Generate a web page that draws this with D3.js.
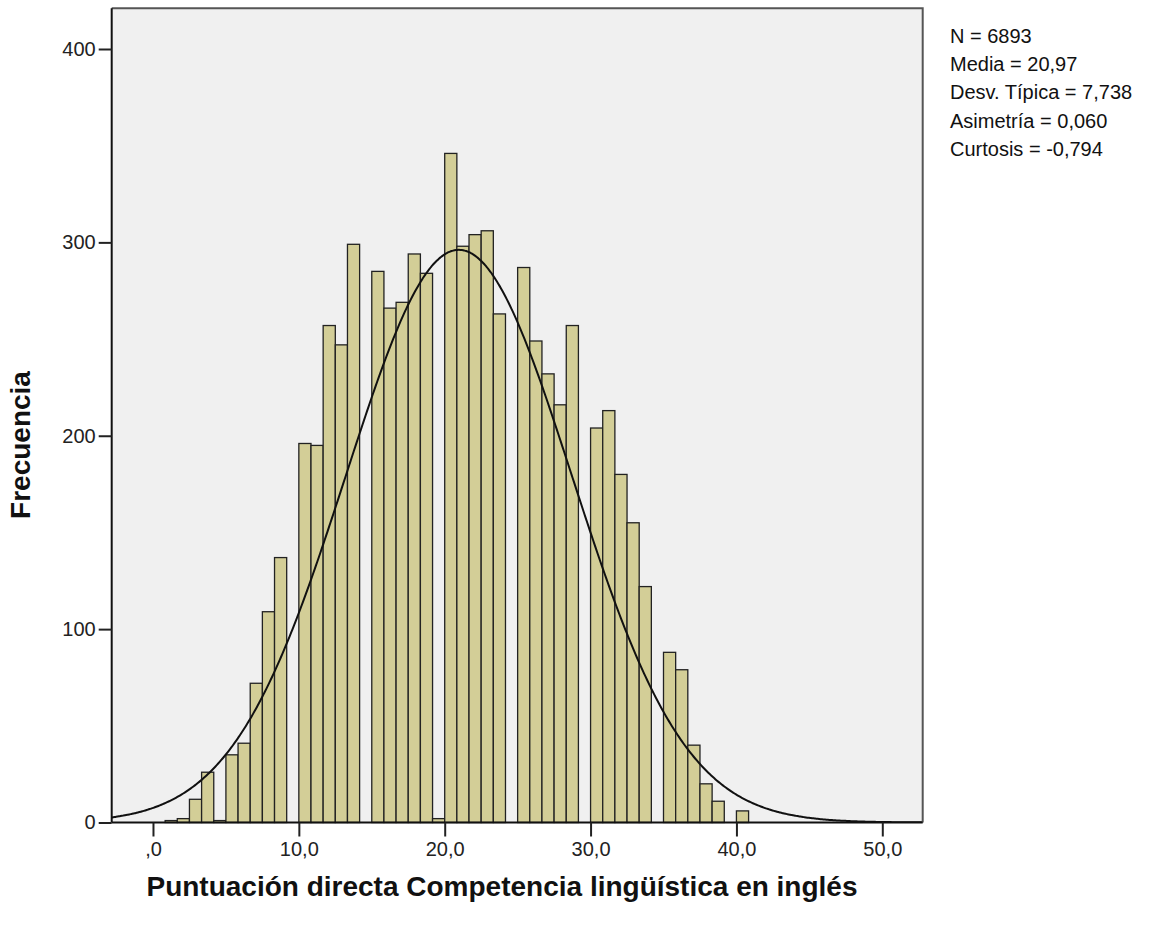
<!DOCTYPE html>
<html><head><meta charset="utf-8">
<script src="https://cdn.jsdelivr.net/npm/d3@7"></script>
<style>body{margin:0;background:#fff;}svg{display:block;font-family:Arial,"Liberation Sans",sans-serif;}</style>
</head><body>
<svg id="c" width="1156" height="925"></svg>
<script>
// ---- data ----
const binOrigin = 0;
const binWidth = 5 / 6;
const counts = [0, 1, 2, 12, 26, 1, 35, 41, 72, 109, 137, 0, 196, 195, 257, 247, 299, 0, 285, 266,
  269, 294, 284, 2, 346, 298, 304, 306, 263, 0, 287, 249, 232, 216, 257, 0, 204, 213, 180, 155,
  122, 0, 88, 79, 40, 20, 11, 0, 6];
const xTicks = [0, 10, 20, 30, 40, 50];
const xTickLabels = [",0", "10,0", "20,0", "30,0", "40,0", "50,0"];
const yTicks = [0, 100, 200, 300, 400];
const statN = 6893, statMean = 20.97, statSD = 7.738;
const statLines = ["N = 6893", "Media = 20,97", "Desv. Típica = 7,738", "Asimetría = 0,060", "Curtosis = -0,794"];
const xTitle = "Puntuación directa Competencia lingüística en inglés";
const yTitle = "Frecuencia";

// ---- layout ----
const L = 111.7, R = 922.7, T = 8.3, B = 822.5;
const svg = d3.select("#c");
const x = d3.scaleLinear().domain([-2.83, 52.77]).range([L, R]);
const y = d3.scaleLinear().domain([0, 400]).range([B, 49]);

svg.append("rect").attr("x", L).attr("y", T).attr("width", R - L).attr("height", B - T)
  .attr("fill", "#f0f0f0");

svg.append("defs").append("clipPath").attr("id", "clip")
  .append("rect").attr("x", L).attr("y", T).attr("width", R - L).attr("height", B - T);

const bins = counts.map((c, i) => ({ x0: binOrigin + i * binWidth, x1: binOrigin + (i + 1) * binWidth, c }))
  .filter(d => d.c > 0);

svg.append("g").selectAll("rect").data(bins).join("rect")
  .attr("x", d => x(d.x0)).attr("width", d => x(d.x1) - x(d.x0))
  .attr("y", d => y(d.c)).attr("height", d => B - y(d.c))
  .attr("fill", "#d3ce97").attr("stroke", "#222").attr("stroke-width", 1.3);

// normal curve from reported stats
const pdf = v => Math.exp(-0.5 * ((v - statMean) / statSD) ** 2) / (statSD * Math.sqrt(2 * Math.PI));
const xs = d3.range(-2.83, 52.8, 0.1);
svg.append("path").datum(xs)
  .attr("clip-path", "url(#clip)")
  .attr("d", d3.line().x(v => x(v)).y(v => y(statN * binWidth * pdf(v))).curve(d3.curveBasis))
  .attr("fill", "none").attr("stroke", "#111").attr("stroke-width", 2);

// frame top/right
svg.append("path").attr("d", `M${L},${T}H${R}V${B}`).attr("fill", "none")
  .attr("stroke", "#555").attr("stroke-width", 2);

// axes
const xAxis = d3.axisBottom(x).tickValues(xTicks).tickSize(14).tickPadding(5)
  .tickFormat((d, i) => xTickLabels[i]);
const gx = svg.append("g").attr("transform", `translate(0,${B})`).call(xAxis);
gx.select(".domain").attr("d", `M${L},0H${R}`).attr("stroke", "#111").attr("stroke-width", 2);
gx.selectAll(".tick line").attr("stroke", "#222").attr("stroke-width", 2);
gx.selectAll("text").attr("font-size", 20).attr("fill", "#222").attr("font-family", "Arial, 'Liberation Sans', sans-serif");

const yAxis = d3.axisLeft(y).tickValues(yTicks).tickSize(13).tickPadding(3).tickFormat(d3.format("d"));
const gy = svg.append("g").attr("transform", `translate(${L},0)`).call(yAxis);
gy.select(".domain").attr("d", `M0,${T}V${B}`).attr("stroke", "#111").attr("stroke-width", 2);
gy.selectAll(".tick line").attr("stroke", "#222").attr("stroke-width", 2);
gy.selectAll("text").attr("font-size", 20).attr("fill", "#222").attr("font-family", "Arial, 'Liberation Sans', sans-serif");

// titles
svg.append("text").attr("x", 502).attr("y", 896).attr("text-anchor", "middle")
  .attr("font-size", 28).attr("font-weight", "bold").attr("fill", "#111").text(xTitle);
svg.append("text").attr("transform", "translate(30,445) rotate(-90)").attr("text-anchor", "middle")
  .attr("font-size", 28).attr("font-weight", "bold").attr("fill", "#111").text(yTitle);

// stats
svg.append("g").selectAll("text").data(statLines).join("text")
  .attr("x", 950).attr("y", (d, i) => 42.7 + i * 28.3)
  .attr("font-size", 20).attr("fill", "#111").text(d => d);
</script>
</body></html>
